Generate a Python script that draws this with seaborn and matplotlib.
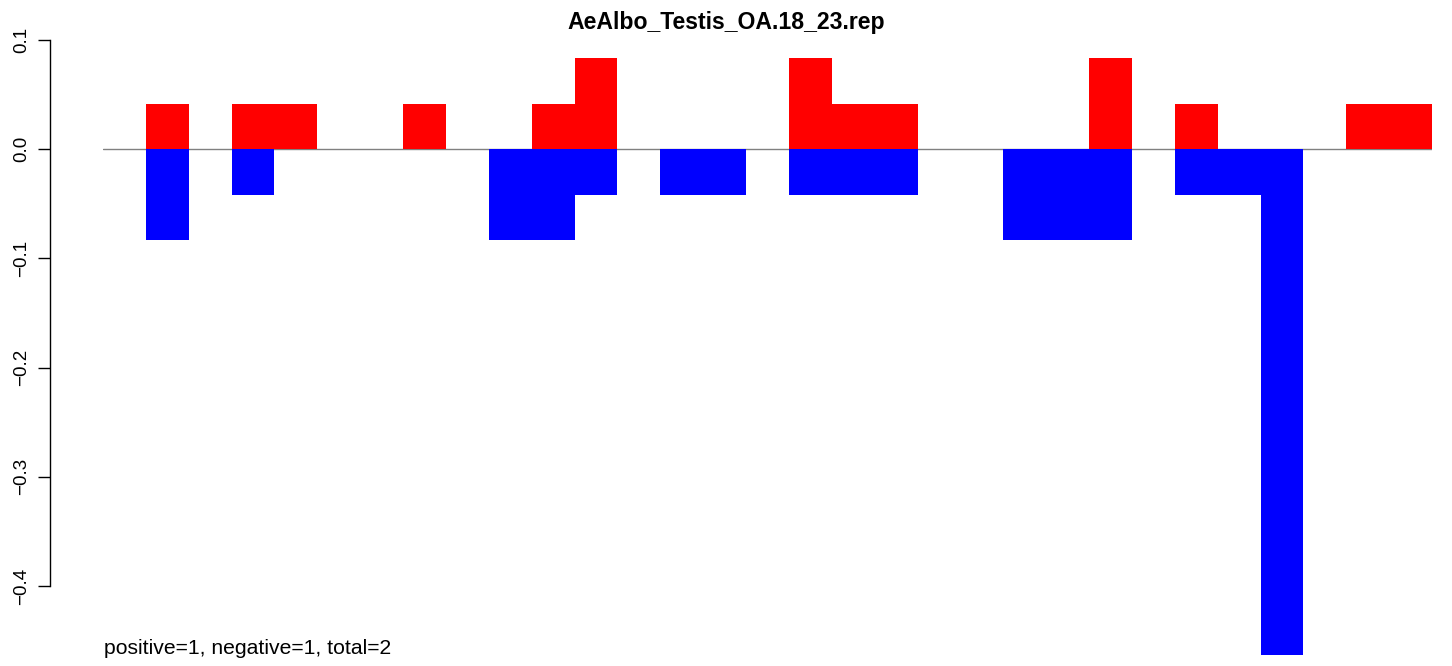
import matplotlib
matplotlib.use("Agg")
import matplotlib.pyplot as plt
import seaborn as sns
import numpy as np

# bins (0..30) and values
pos_bins = [1, 3, 4, 7, 10, 11, 16, 17, 18, 23, 25, 29, 30]
pos_vals = [0.0417, 0.0417, 0.0417, 0.0417, 0.0417, 0.0833, 0.0833, 0.0417,
            0.0417, 0.0833, 0.0417, 0.0417, 0.0417]
neg_bins = [1, 3, 9, 10, 11, 13, 14, 16, 17, 18, 21, 22, 23, 25, 26, 27]
neg_vals = [-0.0833, -0.0417, -0.0833, -0.0833, -0.0417, -0.0417, -0.0417,
            -0.0417, -0.0417, -0.0417, -0.0833, -0.0833, -0.0833, -0.0417,
            -0.0417, -0.463]
n_bins = 31
yticks = [0.1, 0.0, -0.1, -0.2, -0.3, -0.4]
title = "AeAlbo_Testis_OA.18_23.rep"
note = "positive=1, negative=1, total=2"

sns.set_style("white")
plt.rcParams['font.family'] = ['Liberation Sans', 'DejaVu Sans']
plt.rcParams['text.color'] = 'black'
plt.rcParams['ytick.color'] = 'black'
plt.rcParams['ytick.labelcolor'] = 'black'

W, H = 1452, 666
fig = plt.figure(figsize=(W / 100, H / 100), dpi=100)
ax = fig.add_axes([103 / W, (H - 655) / H, (1432 - 103) / W, 615 / H])

ax.axhline(0, color='#808080', lw=1, zorder=0)
sns.barplot(x=pos_bins, y=pos_vals, native_scale=True, width=1, color='red',
            saturation=1, linewidth=0, errorbar=None, ax=ax, zorder=2)
sns.barplot(x=neg_bins, y=neg_vals, native_scale=True, width=1, color='blue',
            saturation=1, linewidth=0, errorbar=None, ax=ax, zorder=2)

ax.set_xlim(-0.5, n_bins - 0.5)
ax.set_ylim(-0.4632, 0.1)
ax.set_xticks([])
ax.set_xlabel("")
ax.set_ylabel("")
for s in ['top', 'right', 'bottom']:
    ax.spines[s].set_visible(False)
ax.spines['left'].set_position(('outward', 38))
ax.spines['left'].set_bounds(-0.4, 0.1)
ax.spines['left'].set_color('black')
ax.spines['left'].set_linewidth(1)
ax.set_yticks(yticks)
ax.set_yticklabels([f"{t:.1f}".replace("-", "\u2212") for t in yticks],
                   rotation=90, va='center', fontsize=13.5, color='black')
ax.tick_params(axis='y', left=True, length=8.6, width=1, pad=6, color='black')

fig.text(726.5 / W, 1 - 23 / H, title, ha='center', va='center',
         fontsize=16.6, fontweight='bold', color='black')
fig.text(104 / W, 1 - 649 / H, note, ha='left', va='center', fontsize=15.2,
         color='black')

fig.savefig("out.png", dpi=100)
